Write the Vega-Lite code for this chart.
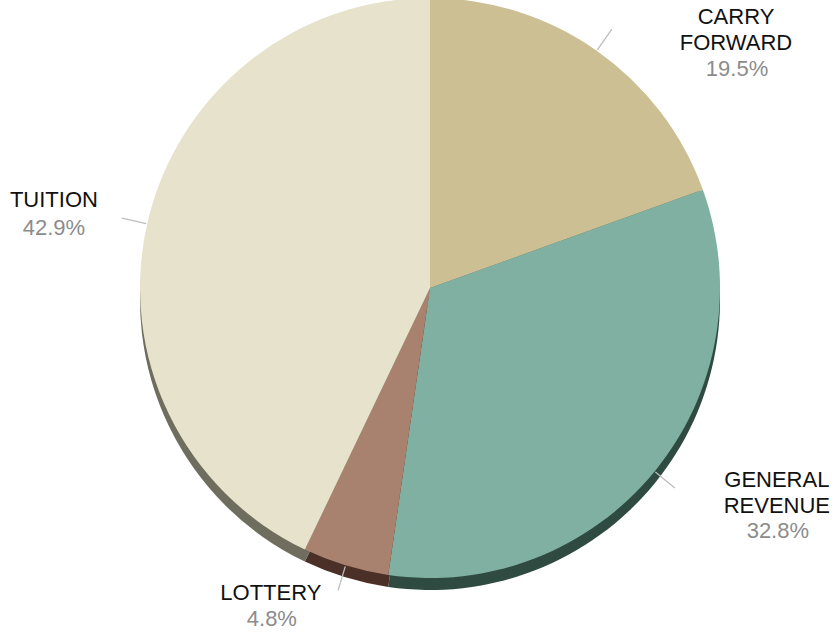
{
  "$schema": "https://vega.github.io/schema/vega-lite/v6.json",
  "width": 812,
  "height": 576,
  "autosize": {"type": "none"},
  "padding": {"left": 24, "right": 0, "top": 0, "bottom": 56},
  "background": "white",
  "config": {"view": {"stroke": null}, "text": {"font": "Liberation Sans", "fontSize": 22}},
  "data": {"values": [
    {"category": "CARRY FORWARD", "pct": 19.5, "pctLabel": "19.5%"},
    {"category": "GENERAL REVENUE", "pct": 32.8, "pctLabel": "32.8%"},
    {"category": "LOTTERY", "pct": 4.8, "pctLabel": "4.8%"},
    {"category": "TUITION", "pct": 42.9, "pctLabel": "42.9%"}
  ]},
  "encoding": {
    "theta": {"field": "pct", "type": "quantitative", "stack": true},
    "order": {"field": "category", "type": "ordinal"},
    "detail": {"field": "category", "type": "nominal"}
  },
  "layer": [
    {
      "mark": {"type": "arc", "radius": 290, "yOffset": 12},
      "encoding": {
        "fill": {"field": "category", "type": "nominal", "legend": null,
          "scale": {"domain": ["CARRY FORWARD", "GENERAL REVENUE", "LOTTERY", "TUITION"],
                    "range": ["#7a6e50", "#2f4a40", "#4a3026", "#6e6d5e"]}}
      }
    },
    {
      "mark": {"type": "arc", "radius": 290},
      "encoding": {
        "color": {"field": "category", "type": "nominal", "legend": null,
          "scale": {"domain": ["CARRY FORWARD", "GENERAL REVENUE", "LOTTERY", "TUITION"],
                    "range": ["#cbbf93", "#7fb0a2", "#a8826e", "#e6e2cb"]}}
      }
    },
    {
      "mark": {"type": "arc", "radius": 316, "radius2": 291, "padAngle": 3, "fill": null, "stroke": "#bdbdbd", "strokeWidth": 1.3}
    },
    {
      "mark": {"type": "text", "radius": 320, "dx": 122, "dy": -9, "lineBreak": " ", "lineHeight": 26, "fill": "#111111", "align": "center", "baseline": "middle"},
      "encoding": {"text": {"condition": {"test": "datum.category === 'CARRY FORWARD'", "field": "category"}, "value": ""}}
    },
    {
      "mark": {"type": "text", "radius": 320, "dx": 123, "dy": 43, "fill": "#8c8c8c", "align": "center", "baseline": "middle"},
      "encoding": {"text": {"condition": {"test": "datum.category === 'CARRY FORWARD'", "field": "pctLabel"}, "value": ""}}
    },
    {
      "mark": {"type": "text", "radius": 320, "dx": 99, "dy": -10, "lineBreak": " ", "lineHeight": 26, "fill": "#111111", "align": "center", "baseline": "middle"},
      "encoding": {"text": {"condition": {"test": "datum.category === 'GENERAL REVENUE'", "field": "category"}, "value": ""}}
    },
    {
      "mark": {"type": "text", "radius": 320, "dx": 100, "dy": 41, "fill": "#8c8c8c", "align": "center", "baseline": "middle"},
      "encoding": {"text": {"condition": {"test": "datum.category === 'GENERAL REVENUE'", "field": "pctLabel"}, "value": ""}}
    },
    {
      "mark": {"type": "text", "radius": 320, "dx": -66, "dy": -1, "fill": "#111111", "align": "center", "baseline": "middle"},
      "encoding": {"text": {"condition": {"test": "datum.category === 'LOTTERY'", "field": "category"}, "value": ""}}
    },
    {
      "mark": {"type": "text", "radius": 320, "dx": -65, "dy": 25, "fill": "#8c8c8c", "align": "center", "baseline": "middle"},
      "encoding": {"text": {"condition": {"test": "datum.category === 'LOTTERY'", "field": "pctLabel"}, "value": ""}}
    },
    {
      "mark": {"type": "text", "radius": 320, "dx": -64, "dy": -17, "fill": "#111111", "align": "center", "baseline": "middle"},
      "encoding": {"text": {"condition": {"test": "datum.category === 'TUITION'", "field": "category"}, "value": ""}}
    },
    {
      "mark": {"type": "text", "radius": 320, "dx": -64, "dy": 11, "fill": "#8c8c8c", "align": "center", "baseline": "middle"},
      "encoding": {"text": {"condition": {"test": "datum.category === 'TUITION'", "field": "pctLabel"}, "value": ""}}
    }
  ]
}
